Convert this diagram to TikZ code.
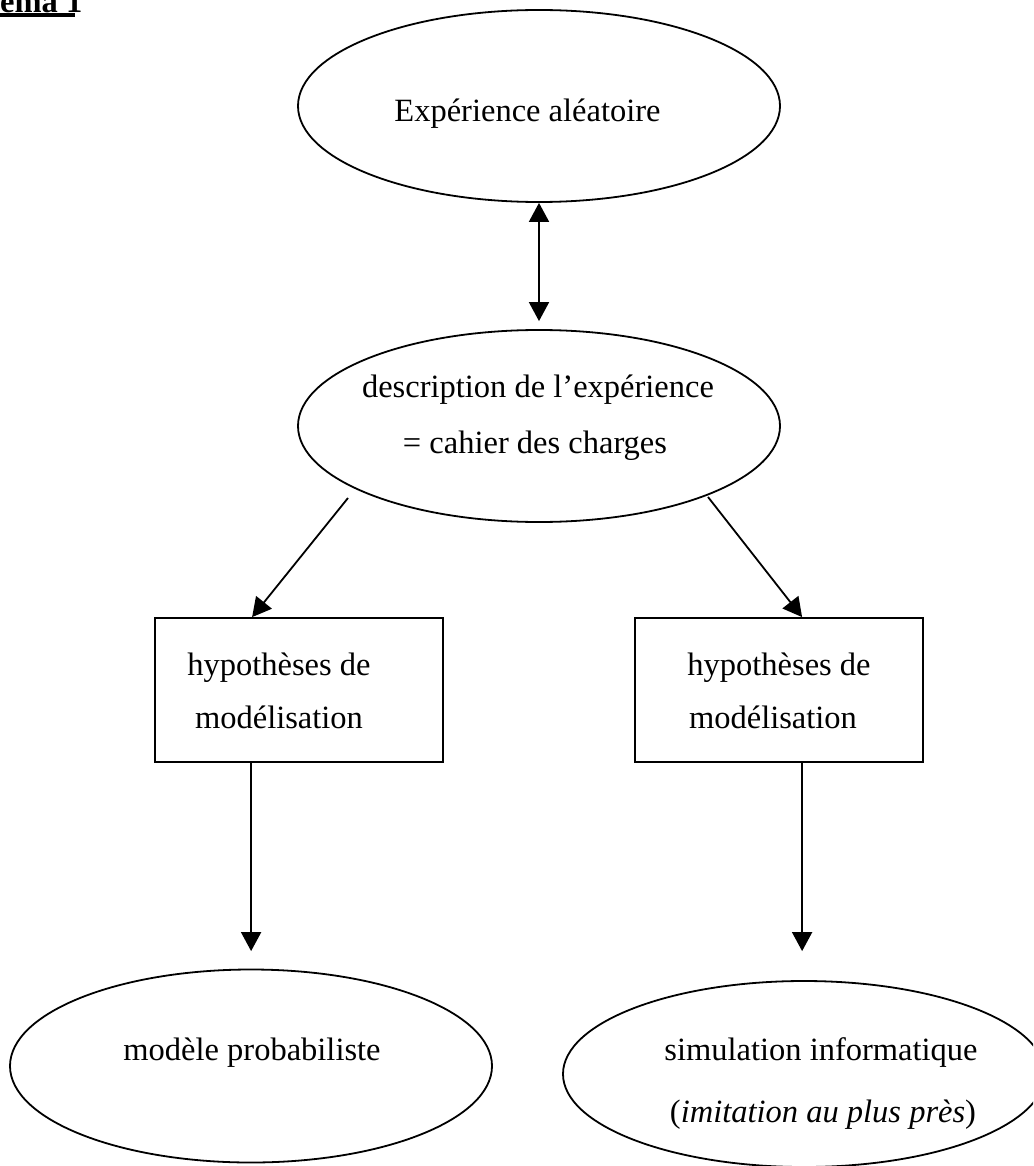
\documentclass[tikz,border=0pt]{standalone}
\usepackage{fontspec}
\setmainfont{Liberation Serif}
\usetikzlibrary{arrows.meta,shapes.geometric,calc}
\begin{document}
\begin{tikzpicture}[x=1pt,y=-1pt,
  lw/.style={line width=1.8pt},
  oval/.style={ellipse,draw,lw,minimum width=482pt,minimum height=192pt,inner sep=0pt},
  boxnode/.style={rectangle,draw,lw,minimum width=288pt,minimum height=144pt,inner sep=0pt},
  txt/.style={anchor=base,inner sep=0pt,font=\fontsize{32.5}{39}\selectfont},
  conn/.style={lw,-{Triangle[width=20pt,length=19pt]}},
  conntwo/.style={lw,{Triangle[width=20pt,length=19pt]}-{Triangle[width=20pt,length=19pt]}},
]
\useasboundingbox (0,0) rectangle (1033,1166);
\clip (0,0) rectangle (1033,1166);

% title
\node[anchor=base west,inner sep=0pt,font=\bfseries\fontsize{32.5}{39}\selectfont] (title) at (-50.6,12.7) {Schéma 1};
\draw[line width=4pt] ([yshift=-2.6pt]title.base west) -- ([yshift=-2.6pt,xshift=-7pt]title.base east);

% shapes
\node[oval] (top) at (539,106) {};
\node[oval] (mid) at (539,426) {};
\node[boxnode] (lbox) at (299,690) {};
\node[boxnode] (rbox) at (779,690) {};
\node[oval,minimum height=193pt] (bl) at (251,1066) {};
\node[oval,minimum height=186pt] (br) at (804,1074) {};

% texts
\node[txt] (toptext) at (527.5,122) {Expérience aléatoire};
\node[txt] (midtexta) at (538,397) {description de l’expérience};
\node[txt] (midtextb) at (535,453) {= cahier des charges};
\node[txt] (lboxa) at (279,675) {hypothèses de};
\node[txt] (lboxb) at (279,728) {modélisation};
\node[txt] (rboxa) at (779,675) {hypothèses de};
\node[txt] (rboxb) at (773,728) {modélisation};
\node[txt] (bltext) at (252,1060) {modèle probabiliste};
\node[txt] (brtexta) at (821,1060) {simulation informatique};
\node[txt] (brtextb) at (823,1122) {(\textit{imitation au plus près})};

% connectors
\draw[conntwo,shorten >=8pt] (top.south) -- (mid.north);
\coordinate (dl) at (348,498);
\coordinate (dr) at (708,497);
\draw[conn] (dl) -- ($(lbox.north west)+(98,0)$);
\draw[conn] (dr) -- ($(rbox.north west)+(168,0)$);
\coordinate (vl) at ($(lbox.south west)+(97,0)$);
\coordinate (vr) at ($(rbox.south west)+(168,0)$);
\draw[conn,shorten >=17.5pt] (vl) -- (vl |- bl.north);
\draw[conn,shorten >=29pt] (vr) -- (vr |- br.north);
\end{tikzpicture}
\end{document}
